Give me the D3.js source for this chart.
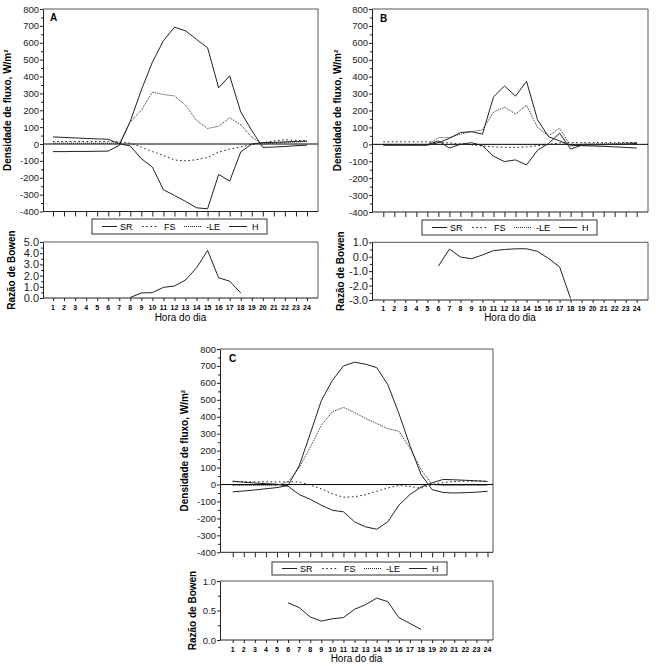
<!DOCTYPE html>
<html><head><meta charset="utf-8">
<script src="https://cdn.jsdelivr.net/npm/d3@7"></script>
<style>body{margin:0;background:#fff;} svg{display:block;font-family:"Liberation Sans",Arial,sans-serif;}</style>
</head><body><svg id="c" width="656" height="666"></svg>
<script>
// ---------- data ----------
const hours = d3.range(1, 25);
const seriesNames = ["SR", "FS", "-LE", "H"];
const fluxTicks = [800, 700, 600, 500, 400, 300, 200, 100, 0, -100, -200, -300, -400];
const xTickLabels = hours.map(String);

const SR_A  = [-45,-45,-44,-44,-43,-42,-8,135,320,485,612,692,671,620,570,333,404,190,80,-20,-18,-15,-10,-7];
const FS_A  = [15,15,15,15,15,15,12,5,-18,-45,-68,-95,-100,-93,-80,-48,-30,-18,-2,8,18,25,22,18];
const LE_A  = [5,5,5,5,5,5,5,130,200,308,293,285,230,140,92,105,155,115,40,0,5,10,12,15];
const H_A   = [42,39,36,33,30,28,2,-12,-87,-137,-271,-305,-340,-378,-384,-180,-220,-47,0,8,10,12,15,18];
const bowenHours_A = [8,9,10,11,12,13,14,15,16,17,18];
const bowen_A = [0.05,0.45,0.48,0.95,1.07,1.6,2.7,4.25,1.8,1.5,0.45];
const bowenTicks_A = [0,1,2,3,4,5];

const SR_B  = [-5,-5,-5,-5,-5,10,35,70,75,60,280,345,285,372,145,45,20,-5,-8,-10,-12,-15,-18,-22];
const FS_B  = [15,15,15,15,15,12,8,3,-3,-10,-15,-18,-18,-15,-8,0,8,10,10,10,10,10,10,10];
const LE_B  = [0,0,0,0,0,39,40,60,75,85,190,220,180,230,100,50,95,-10,0,2,3,5,8,10];
const H_B   = [-3,-3,-3,-3,-3,20,-22,0,10,-8,-70,-102,-92,-122,-35,5,66,-28,-5,-3,-2,0,2,5];
const bowenHours_B = [6,7,8,9,10,11,12,13,14,15,16,17,18];
const bowen_B = [-0.65,0.53,-0.02,-0.14,0.12,0.42,0.5,0.55,0.55,0.37,-0.12,-0.7,-2.9];
const bowenTicks_B = [1,0,-1,-2,-3];

const SR_C  = [-43,-38,-32,-25,-18,-5,110,300,495,615,700,722,710,690,590,420,230,60,-30,-47,-50,-48,-45,-40];
const FS_C  = [16,16,16,16,16,16,15,-3,-25,-55,-75,-72,-60,-40,-20,-5,-12,-22,0,12,18,20,20,20];
const LE_C  = [-5,-5,-5,-5,-5,16,100,220,350,430,455,425,390,360,330,315,215,88,0,-5,-5,-5,-5,-5];
const H_C   = [20,14,9,5,2,-10,-59,-87,-122,-152,-161,-220,-250,-264,-220,-122,-59,-15,10,30,28,25,22,18];
const bowenHours_C = [6,7,8,9,10,11,12,13,14,15,16,17,18];
const bowen_C = [0.63,0.55,0.39,0.32,0.36,0.38,0.52,0.60,0.71,0.65,0.38,0.28,0.18];
const bowenTicks_C = [0, 0.5, 1];

// ---------- layout ----------
const panels = [
  {letter:"A", series:[SR_A,FS_A,LE_A,H_A], bh:bowenHours_A, bv:bowen_A, bt:bowenTicks_A, bDom:[0,5], bMinor:0.5,
   left:43, right:318, x1:53, x24:307, top:9, bottom:211.5, leg:[92,219,175,15], bTop:242, bBottom:298,
   tickLabY:310, titleY:321, yTitleX:11, bTitleX:15, letterX:50, letterY:21, bFont:11},
  {letter:"B", series:[SR_B,FS_B,LE_B,H_B], bh:bowenHours_B, bv:bowen_B, bt:bowenTicks_B, bDom:[-3,1], bMinor:0.5,
   left:372, right:648, x1:383.3, x24:636.7, top:9, bottom:212, leg:[422,220,175,15], bTop:242.3, bBottom:300,
   tickLabY:310.5, titleY:321, yTitleX:341, bTitleX:344, letterX:380, letterY:22, bFont:11},
  {letter:"C", series:[SR_C,FS_C,LE_C,H_C], bh:bowenHours_C, bv:bowen_C, bt:bowenTicks_C, bDom:[0,1], bMinor:0.25,
   left:220, right:493, x1:232.7, x24:487.5, top:349, bottom:552.3, leg:[272,562,175,13], bTop:581, bBottom:640,
   tickLabY:651.5, titleY:662, yTitleX:188, bTitleX:196, letterX:229, letterY:362, bFont:9.5}
];

const dashes = [null, "1.6,2.6", "1,1", null];
const ink = "#222";
const svg = d3.select("#c");

panels.forEach(p => {
  const g = svg.append("g");
  const x = d3.scaleLinear().domain([1, 24]).range([p.x1, p.x24]);
  const y = d3.scaleLinear().domain([-400, 800]).range([p.bottom, p.top]);
  const yb = d3.scaleLinear().domain(p.bDom).range([p.bBottom, p.bTop]);

  // frame (top & right)
  g.append("path").attr("d", `M${p.left},${p.top}H${p.right}V${p.bottom}`)
    .attr("fill","none").attr("stroke","#555").attr("stroke-width",1);
  // zero line
  g.append("line").attr("x1",p.left).attr("x2",p.right).attr("y1",y(0)).attr("y2",y(0))
    .attr("stroke","#000").attr("stroke-width",1);

  // y axis main
  const ya = g.append("g").attr("transform",`translate(${p.left},0)`)
    .call(d3.axisLeft(y).tickValues(fluxTicks).tickSize(3).tickSizeOuter(0).tickPadding(1).tickFormat(d => String(d)));
  ya.selectAll("text").attr("font-size", 9.5).attr("fill", ink);
  ya.selectAll("line,path").attr("stroke", ink);
  const ym = g.append("g").attr("transform",`translate(${p.left},0)`)
    .call(d3.axisLeft(y).tickValues(d3.range(-350, 800, 100)).tickSize(2).tickFormat(""));
  ym.select(".domain").remove();
  ym.selectAll("line").attr("stroke", ink);

  // bottom axis main
  const xa = g.append("g").attr("transform",`translate(0,${p.bottom})`)
    .call(d3.axisBottom(x).tickValues(hours).tickSize(5).tickFormat(""));
  xa.select(".domain").remove();
  xa.selectAll("line").attr("stroke", ink);
  g.append("line").attr("x1",p.left).attr("x2",p.right).attr("y1",p.bottom).attr("y2",p.bottom).attr("stroke",ink);

  // series
  const line = d3.line().x((d,i) => x(hours[i])).y(d => y(d));
  p.series.forEach((s, k) => {
    g.append("path").datum(s).attr("d", line).attr("fill","none")
      .attr("stroke", ink).attr("stroke-width", 1)
      .attr("stroke-dasharray", dashes[k]);
  });

  // letter
  g.append("text").attr("x",p.letterX).attr("y",p.letterY).text(p.letter)
    .attr("font-size",10).attr("font-weight","bold").attr("fill","#000");

  // y title
  g.append("text").attr("transform",`translate(${p.yTitleX},${(p.top+p.bottom)/2}) rotate(-90)`)
    .attr("text-anchor","middle").attr("font-size",10).attr("font-weight","bold").attr("fill","#000")
    .text("Densidade de fluxo, W/m²");

  // legend
  const [lx, ly, lw, lh] = p.leg;
  const lg = g.append("g").attr("transform",`translate(${lx},${ly})`);
  lg.append("rect").attr("width",lw).attr("height",lh).attr("fill","#fff").attr("stroke","#333");
  const items = [
    {s:10, e:25, t:28}, {s:50, e:66, t:72}, {s:92, e:109, t:114}, {s:137, e:155, t:160}
  ];
  items.forEach((it, k) => {
    lg.append("line").attr("x1",it.s).attr("x2",it.e).attr("y1",lh/2).attr("y2",lh/2)
      .attr("stroke",ink).attr("stroke-width",1).attr("stroke-dasharray",dashes[k]);
    lg.append("text").attr("x",it.t).attr("y",lh/2+3.3).attr("font-size",9).attr("fill","#000").text(seriesNames[k]);
  });

  // bowen panel
  g.append("path").attr("d", `M${p.left},${p.bTop}H${p.right}V${p.bBottom}`)
    .attr("fill","none").attr("stroke","#555").attr("stroke-width",1);
  const ba = g.append("g").attr("transform",`translate(${p.left},0)`)
    .call(d3.axisLeft(yb).tickValues(p.bt).tickSize(3).tickSizeOuter(0).tickPadding(1).tickFormat(d => d.toFixed(1)));
  ba.selectAll("text").attr("font-size", p.bFont).attr("fill", ink);
  ba.selectAll("line,path").attr("stroke", ink);
  const bm = g.append("g").attr("transform",`translate(${p.left},0)`)
    .call(d3.axisLeft(yb).tickValues(d3.range(p.bDom[0]+p.bMinor, p.bDom[1], p.bMinor*2).filter(v=>!p.bt.includes(+v.toFixed(2)))).tickSize(2).tickFormat(""));
  bm.select(".domain").remove();
  bm.selectAll("line").attr("stroke", ink);

  const bx = g.append("g").attr("transform",`translate(0,${p.bBottom})`)
    .call(d3.axisBottom(x).tickValues(hours).tickSize(3).tickFormat(""));
  bx.select(".domain").remove();
  bx.selectAll("line").attr("stroke", ink);
  g.append("line").attr("x1",p.left).attr("x2",p.right).attr("y1",p.bBottom).attr("y2",p.bBottom).attr("stroke",ink);
  g.append("g").selectAll("text").data(xTickLabels).join("text")
    .attr("x",(d,i)=>x(hours[i])).attr("y",p.tickLabY).attr("text-anchor","middle")
    .attr("font-size",7).attr("font-weight","bold").attr("fill","#000").text(d=>d);

  const bl = d3.line().x((d,i) => x(p.bh[i])).y(d => yb(d));
  g.append("path").datum(p.bv).attr("d", bl).attr("fill","none").attr("stroke",ink).attr("stroke-width",1);

  g.append("text").attr("x",(p.left+p.right)/2).attr("y",p.titleY).attr("text-anchor","middle")
    .attr("font-size",10).attr("fill","#000").text("Hora do dia");
  g.append("text").attr("transform",`translate(${p.bTitleX},${(p.bTop+p.bBottom)/2}) rotate(-90)`)
    .attr("text-anchor","middle").attr("font-size",10).attr("font-weight","bold").attr("fill","#000")
    .text("Razão de Bowen");
});
</script></body></html>
